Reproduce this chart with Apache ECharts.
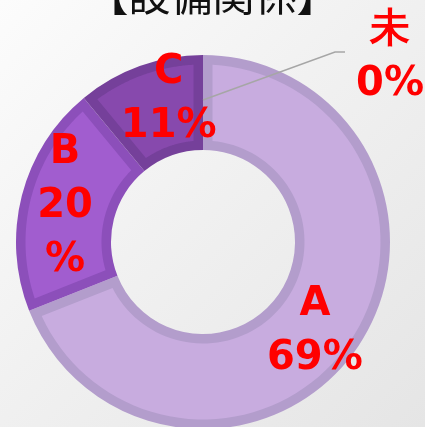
<!DOCTYPE html>
<html>
<head>
    <meta charset="utf-8">
    <title>設備関係</title>
    <script src="https://cdn.jsdelivr.net/npm/echarts@6/dist/echarts.min.js"></script>
    <style>
        html, body { margin: 0; padding: 0; }
        body {
            background: linear-gradient(135deg, #fcfcfc 0%, #f1f1f1 45%, #e5e5e5 100%);
        }
    </style>
</head>
<body>
    <div id="main" style="width: 425px;height:427px;"></div>
    <script type="text/javascript">
        // data
        var categories = ['A', 'B', 'C', '未'];
        var percents = [69, 20, 11, 0];
        var fillColors = ['#c8acdf', '#a15dcf', '#8749ad', '#8749ad'];
        var edgeColors = ['#b39dcc', '#8c4fba', '#75409a', '#75409a'];

        var myChart = echarts.init(document.getElementById('main'));

        var cx = 203, cy = 242;
        var rIn = 92, rOut = 187, edge = 9.5;

        // start / end of each slice along the 0..100 angle axis
        var spans = [];
        var acc = 0;
        percents.forEach(function (p) {
            spans.push([acc, acc + p]);
            acc += p;
        });

        // inset fill of each slice, so every slice keeps its own darker rim
        function renderInset(params, api) {
            var idx = params.dataIndex;
            var a0 = api.value(0), a1 = api.value(1);
            var ro = rOut - edge, ri = rIn + edge;
            var dOut = Math.asin(edge / ro) / (2 * Math.PI) * 100;
            var dIn = Math.asin(edge / ri) / (2 * Math.PI) * 100;
            if (a1 - a0 <= 2 * dIn) return;
            var pts = [];
            var n = 80, k, a;
            for (k = 0; k <= n; k++) {
                a = (a0 + dOut) + (a1 - a0 - 2 * dOut) * k / n;
                pts.push(api.coord([ro, a]));
            }
            for (k = 0; k <= n; k++) {
                a = (a1 - dIn) - (a1 - a0 - 2 * dIn) * k / n;
                pts.push(api.coord([ri, a]));
            }
            return {
                type: 'polygon',
                shape: { points: pts },
                style: { fill: fillColors[idx] }
            };
        }

        var edgeData = categories.map(function (name, i) {
            return { name: name, value: percents[i], itemStyle: { color: edgeColors[i] } };
        });

        var labelData = categories.map(function (name, i) {
            var item = { name: name, value: percents[i] };
            if (name === 'B') {
                item.label = { formatter: '{b}\n{c}\n%' };
            }
            if (name === 'C') {
                item.label = { offset: [14, -8] };
            }
            if (name === 'A') {
                item.label = { offset: [-6, 10] };
            }
            if (name === '未') {
                item.label = { position: 'outside' };
                item.labelLine = {
                    show: true,
                    lineStyle: { color: '#a6a6a6', width: 1.5 }
                };
            }
            return item;
        });

        var option = {
            animation: false,
            title: {
                text: '【設備関係】',
                left: 'center',
                top: -26,
                padding: 0,
                textStyle: {
                    fontFamily: 'Noto Sans CJK JP',
                    fontSize: 42,
                    fontWeight: 'normal',
                    color: '#111'
                }
            },
            polar: { center: [cx, cy], radius: rOut },
            angleAxis: {
                type: 'value', min: 0, max: 100,
                startAngle: 90, clockwise: true, show: false
            },
            radiusAxis: { type: 'value', min: 0, max: rOut, show: false },
            series: [{
                type: 'pie',
                z: 1,
                center: [cx, cy],
                radius: [rIn, rOut],
                startAngle: 90,
                clockwise: true,
                silent: true,
                label: { show: false },
                labelLine: { show: false },
                data: edgeData
            }, {
                type: 'custom',
                z: 2,
                coordinateSystem: 'polar',
                silent: true,
                renderItem: renderInset,
                data: spans
            }, {
                type: 'pie',
                z: 3,
                center: [cx, cy],
                radius: [rIn + edge, rOut - edge],
                startAngle: 90,
                clockwise: true,
                silent: true,
                itemStyle: { color: 'rgba(0,0,0,0)' },
                label: {
                    show: true,
                    position: 'inside',
                    formatter: '{b}\n{c}%',
                    color: '#ff0000',
                    fontFamily: 'DejaVu Sans',
                    fontWeight: 'bold',
                    fontSize: 40,
                    lineHeight: 54,
                    align: 'center'
                },
                labelLine: { show: false },
                labelLayout: function (params) {
                    if (params.dataIndex === 3) {
                        return {
                            x: 390,
                            y: 58,
                            align: 'center',
                            verticalAlign: 'middle',
                            labelLinePoints: [[cx, cy - 142], [335, 52], [345, 52]]
                        };
                    }
                },
                data: labelData
            }]
        };

        myChart.setOption(option);
    </script>
</body>
</html>
